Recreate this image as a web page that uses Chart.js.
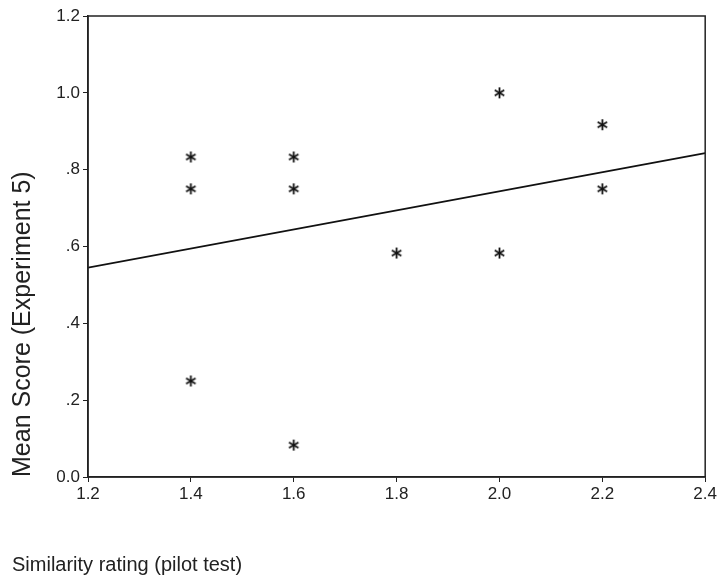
<!DOCTYPE html>
<html>
<head>
<meta charset="utf-8">
<script src="https://cdn.jsdelivr.net/npm/chart.js@4"></script>
<style>
  html, body { margin: 0; padding: 0; background: #fff; }
  #wrap { width: 719px; height: 575px; }
</style>
</head>
<body>
<div id="wrap"><canvas id="c" width="719" height="575"></canvas></div>
<script>
// Data
const similarity = [1.4, 1.4, 1.4, 1.6, 1.6, 1.6, 1.8, 2.0, 2.0, 2.2, 2.2];
const meanScore  = [0.833, 0.75, 0.25, 0.833, 0.75, 0.083, 0.583, 1.0, 0.583, 0.917, 0.75];
const fitX = [1.2, 2.4];
const fitY = [0.545, 0.843];
const xTickLabels = ["1.2", "1.4", "1.6", "1.8", "2.0", "2.2", "2.4"];
const yTickLabels = ["0.0", ".2", ".4", ".6", ".8", "1.0", "1.2"];
const xTitle = "Similarity rating (pilot test)";
const yTitle = "Mean Score (Experiment 5)";

const FONT = "'Liberation Sans', Arial, Helvetica, sans-serif";

// asterisk marker
function makeAsterisk(r) {
  const s = Math.ceil(r * 2 + 4);
  const cv = document.createElement('canvas');
  cv.width = s; cv.height = s;
  const g = cv.getContext('2d');
  g.strokeStyle = '#111';
  g.lineWidth = 1.8;
  g.lineCap = 'butt';
  const c = s / 2;
  for (let k = 0; k < 3; k++) {
    const a = Math.PI / 2 + k * Math.PI / 3;
    g.beginPath();
    g.moveTo(c - r * Math.cos(a), c - r * Math.sin(a));
    g.lineTo(c + r * Math.cos(a), c + r * Math.sin(a));
    g.stroke();
  }
  return cv;
}
const star = makeAsterisk(5.5);

const frame = {
  id: 'frame',
  afterDraw(chart) {
    const a = chart.chartArea, ctx = chart.ctx;
    ctx.save();
    ctx.strokeStyle = '#222';
    ctx.lineWidth = 1.5;
    ctx.strokeRect(a.left, a.top, a.right - a.left, a.bottom - a.top);
    ctx.restore();
  }
};

new Chart(document.getElementById('c'), {
  type: 'scatter',
  data: {
    datasets: [
      {
        type: 'scatter',
        data: similarity.map((x, i) => ({ x, y: meanScore[i] })),
        pointStyle: star,
        pointRadius: 6,
        pointHoverRadius: 6
      },
      {
        type: 'line',
        data: fitX.map((x, i) => ({ x, y: fitY[i] })),
        borderColor: '#111',
        borderWidth: 1.6,
        pointRadius: 0,
        fill: false
      }
    ]
  },
  options: {
    responsive: false,
    animation: false,
    events: [],
    layout: { padding: { left: 12, right: 13, top: 16, bottom: 0 } },
    plugins: {
      legend: { display: false },
      tooltip: { enabled: false },
      title: {
        display: true,
        text: xTitle,
        position: 'bottom',
        align: 'start',
        color: '#222',
        font: { family: FONT, size: 20, weight: 'normal' },
        padding: { top: 28, bottom: -2 }
      }
    },
    scales: {
      x: {
        type: 'linear',
        min: 1.2, max: 2.4,
        afterFit(s) { s.height = 48; },
        border: { display: true, color: '#222', width: 1.5 },
        grid: { display: true, drawOnChartArea: false, tickLength: 5, color: '#222' },
        ticks: {
          stepSize: 0.2,
          color: '#222',
          padding: 2,
          maxRotation: 0,
          font: { family: FONT, size: 17 },
          callback: (v) => xTickLabels[Math.round((v - 1.2) / 0.2)]
        }
      },
      y: {
        type: 'linear',
        min: 0, max: 1.2,
        afterFit(s) { s.width = 76; },
        border: { display: true, color: '#222', width: 1.5 },
        grid: { display: true, drawOnChartArea: false, tickLength: 5, color: '#222' },
        ticks: {
          stepSize: 0.2,
          color: '#222',
          padding: 3,
          font: { family: FONT, size: 17 },
          callback: (v) => yTickLabels[Math.round(v / 0.2)]
        },
        title: {
          display: true,
          text: yTitle,
          align: 'start',
          color: '#222',
          font: { family: FONT, size: 25 },
          padding: { top: -4, bottom: 0 }
        }
      }
    }
  },
  plugins: [frame]
});
</script>
</body>
</html>
